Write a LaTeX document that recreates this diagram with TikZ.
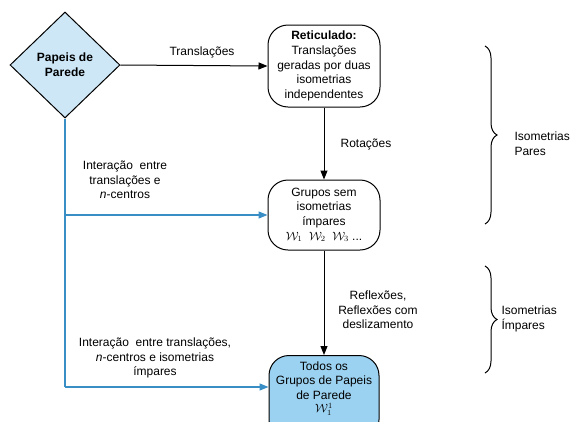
\documentclass[tikz,border=0pt]{standalone}
\usepackage{fontspec}
\setmainfont{Liberation Sans}
\usetikzlibrary{shapes.geometric,arrows.meta,decorations.pathreplacing}
\definecolor{paleblue}{HTML}{CDE7F7}
\definecolor{fullblue}{HTML}{9CD2F1}
\definecolor{lineblue}{HTML}{3A8EC6}
\tikzset{
  box/.style={draw,line width=1pt,rounded corners=20pt,align=center,
    minimum width=112pt,inner sep=2pt,font=\fontsize{12}{14.6}\selectfont},
  lbl/.style={align=center,font=\fontsize{12}{14.6}\selectfont},
  flow/.style={line width=1pt,-{Triangle[length=9pt,width=7pt]}},
  blueflow/.style={flow,draw=lineblue,line width=1.3pt},
  brc/.style={decorate,decoration={brace,amplitude=12pt},line width=1pt}
}
\begin{document}
\begin{tikzpicture}[x=1pt,y=-1pt]
  \useasboundingbox (0,0) rectangle (571,421);
  \node[draw,diamond,line width=1pt,fill=paleblue,minimum width=110pt,minimum height=106pt,
    inner sep=0pt,align=center,font=\bfseries\fontsize{12}{14.6}\selectfont] (wall) at (65,65) {Papeis de\\Parede};
  \node[box,minimum height=82pt] (ret) at (324,66)
    {\textbf{Reticulado:}\\Translações\\geradas por duas\\isometrias\\independentes};
  \node[box,minimum height=70pt] (semimp) at (324,215)
    {Grupos sem\\isometrias\\ímpares\\$\mathcal{W}_1$\ \ $\mathcal{W}_2$\ \ $\mathcal{W}_3$ ...};
  \node[box,fill=fullblue,anchor=north,minimum height=84pt,minimum width=110pt] (todos) at (324,355)
    {Todos os\\Grupos de Papeis\\de Parede\\[-1pt]$\mathcal{W}^{1}_{1}$\\[6pt]};
  % connectors
  \draw[flow] (wall.east) -- (ret.west);
  \draw[flow] (ret.south) -- (semimp.north);
  \draw[flow] (semimp.south) -- (todos.north);
  \coordinate (cor) at (wall.south |- 0,387);
  \coordinate (mid) at (wall.south |- semimp.west);
  \draw[lineblue,line width=1.3pt] (wall.south) -- (cor);
  \draw[blueflow] (cor) -- (cor -| todos.west);
  \draw[blueflow] (mid) -- (semimp.west);
  % labels
  \node[lbl] (ltrans) at (202,52) {Translações};
  \node[lbl] (lrot) at (366,144) {Rotações};
  \node[lbl] (lrefl) at (378,310) {Reflexões,\\Reflexões com\\deslizamento};
  \node[lbl] (lint1) at (125,180) {Interação\ \ entre\\translações e\\\textit{n}-centros};
  \node[lbl] (lint2) at (155,358) {Interação\ \ entre translações,\\\textit{n}-centros e isometrias\\ímpares};
  % braces
  \draw[brc] (485,46) -- (485,224);
  \draw[brc] (485,266) -- (485,373);
  \node[lbl,align=left,anchor=west] (lpar) at (511,144) {Isometrias\\Pares};
  \node[lbl,align=left,anchor=west] (limp) at (498,319) {Isometrias\\Ímpares};
\end{tikzpicture}
\end{document}
